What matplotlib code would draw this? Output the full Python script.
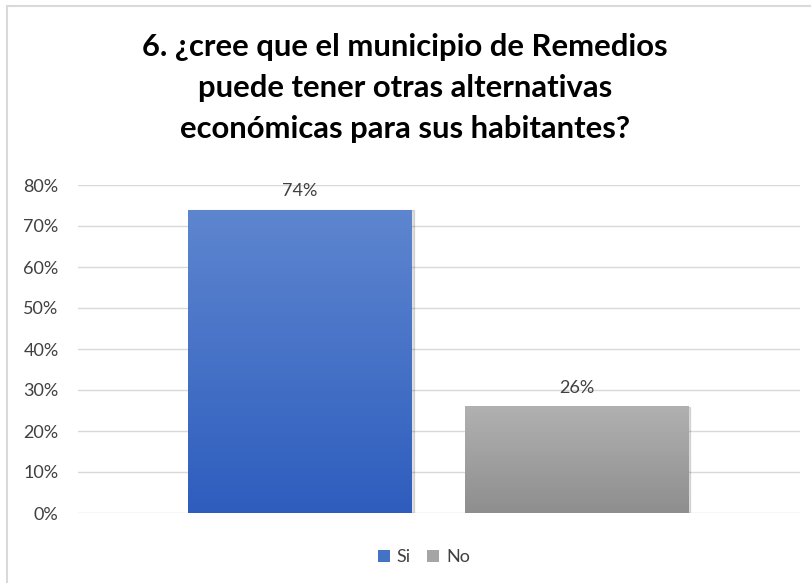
import matplotlib
matplotlib.use("Agg")
import matplotlib.pyplot as plt
import numpy as np
from matplotlib.patches import Rectangle
from matplotlib.colors import LinearSegmentedColormap

plt.rcParams['font.family'] = ['Lato', 'DejaVu Sans']

title = "6. ¿cree que el municipio de Remedios\npuede tener otras alternativas\neconómicas para sus habitantes?"
series = ["Si", "No"]
values = [0.74, 0.26]
labels = ["74%", "26%"]
top_colors = ["#5E86CF", "#B1B1B1"]
bottom_colors = ["#2E5DBE", "#8E8E8E"]
yticks = [0, 0.1, 0.2, 0.3, 0.4, 0.5, 0.6, 0.7, 0.8]
yticklabels = ["0%", "10%", "20%", "30%", "40%", "50%", "60%", "70%", "80%"]

W, H = 812, 583
fig = plt.figure(figsize=(W / 100, H / 100), dpi=100)

# border (right and bottom edges lie outside the image)
fig.patches.append(Rectangle((7 / W, -0.1), 1.2, 1.1 - 6 / H, transform=fig.transFigure,
                             fill=False, edgecolor="#D9D9D9", linewidth=1.5))

ax = fig.add_axes([78 / W, (H - 513) / H, (800 - 78) / W, (513 - 185) / H])
ax.set_ylim(0, 0.8)
ax.set_xlim(-0.803, 1.808)
ax.set_yticks(yticks)
ax.set_yticklabels(yticklabels, fontsize=13, color="#404040")
ax.set_xticks([])
ax.tick_params(axis="y", length=0, pad=14)
for s in ax.spines.values():
    s.set_visible(False)
ax.grid(axis="y", color="#D9D9D9", linewidth=1)
ax.set_axisbelow(True)

width = 0.81
xs = np.arange(len(values))
bars = ax.bar(xs, values, width=width, color="none", edgecolor="none", zorder=2)
grad = np.linspace(0, 1, 256).reshape(-1, 1)
for b, tc, bc, lab in zip(bars, top_colors, bottom_colors, labels):
    x0, y0 = b.get_x(), b.get_y()
    w, h = b.get_width(), b.get_height()
    ax.add_patch(Rectangle((x0 + 0.006, y0), w, h - 0.002, color="#000000", alpha=0.12, zorder=2))
    cmap = LinearSegmentedColormap.from_list("g", [bc, tc])
    im = ax.imshow(grad, extent=[x0, x0 + w, y0, y0 + h], origin="lower",
                   cmap=cmap, aspect="auto", zorder=3)
    clip = Rectangle((x0, y0), w, h, transform=ax.transData, facecolor="none", edgecolor="none")
    ax.add_patch(clip)
    im.set_clip_path(clip)
    ax.text(x0 + w / 2, y0 + h + 0.025, lab, ha="center", va="bottom",
            fontsize=13, color="#404040", zorder=4)
ax.set_xlim(-0.803, 1.808)
ax.set_ylim(0, 0.8)

handles = [Rectangle((0, 0), 1, 1, facecolor=c) for c in ["#4472C4", "#A5A5A5"]]
fig.legend(handles, series, loc="center", bbox_to_anchor=(424 / W, 1 - 557 / H),
           ncol=2, frameon=False, fontsize=13, handlelength=0.65, handleheight=0.65,
           handletextpad=0.4, columnspacing=0.9, labelcolor="#404040")

fig.text(405 / W, 1 - 88 / H, title, ha="center", va="center", fontsize=22.3,
         fontweight="bold", color="#000000", linespacing=1.55)

fig.savefig("out.png", dpi=100)
